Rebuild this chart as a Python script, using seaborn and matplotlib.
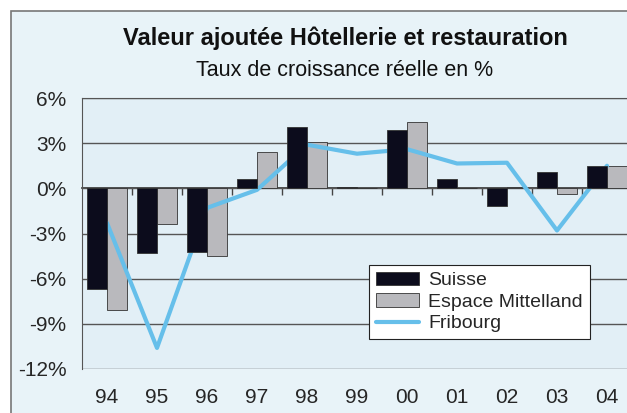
import pandas as pd
import numpy as np
import matplotlib.pyplot as plt
import seaborn as sns
from matplotlib.patches import Rectangle

years = ["94", "95", "96", "97", "98", "99", "00", "01", "02", "03", "04"]
suisse = [-6.7, -4.3, -4.2, 0.65, 4.05, 0.1, 3.9, 0.6, -1.2, 1.1, 1.5]
mittelland = [-8.1, -2.4, -4.5, 2.4, 3.05, 0.0, 4.4, 0.0, 0.1, -0.4, 1.5]
fribourg = [-2.3, -10.6, -1.3, -0.1, 2.9, 2.3, 2.6, 1.65, 1.7, -2.8, 1.5]
y_ticks = [-12, -9, -6, -3, 0, 3, 6]

df = pd.DataFrame({"annee": years * 2,
                   "serie": ["Suisse"] * len(years) + ["Espace Mittelland"] * len(years),
                   "taux": suisse + mittelland})

sns.set_style("white")
plt.rcParams["font.family"] = ["Liberation Sans", "DejaVu Sans"]

fig = plt.figure(figsize=(6.27, 4.13), dpi=100, facecolor="white")
# cadre du graphique (scan)
cadre = Rectangle((11 / 627, -0.1), 1.2, 1 - 11 / 413 + 0.1, transform=fig.transFigure,
                  facecolor="#e8f3f8", edgecolor="#777777", lw=1.2, zorder=-1)
fig.patches.append(cadre)

ax = fig.add_axes([82 / 627, 44 / 413, 550 / 627, 271 / 413])
ax.set_facecolor("#e2eff6")

sns.barplot(data=df, x="annee", y="taux", hue="serie", order=years,
            hue_order=["Suisse", "Espace Mittelland"],
            palette=["#0c0c1c", "#b9b9bd"], width=0.8, saturation=1,
            edgecolor="#333333", linewidth=0.6, legend=False, ax=ax)
for b in ax.containers[0]:
    b.set_zorder(3)
for b in ax.containers[1]:
    b.set_zorder(1.5)

sns.lineplot(x=np.arange(len(years)), y=fribourg, color="#66bfea", lw=3, ax=ax,
             zorder=2.5, label="Fribourg", legend=False)
ligne = [l for l in ax.get_lines() if l.get_label() == "Fribourg"][0]

ax.set_xlim(-0.5, len(years) - 0.5)
ax.set_ylim(-12, 6)
ax.set_yticks(y_ticks)
ax.set_yticklabels([f"{v}%" for v in y_ticks], fontsize=15)
ax.set_xticks(range(len(years)))
ax.set_xticklabels(years, fontsize=15)
ax.tick_params(axis="x", length=0, pad=14)
ax.tick_params(axis="y", length=5, width=1, color="#444444", direction="out", pad=6)
ax.set_xlabel("")
ax.set_ylabel("")
ax.grid(axis="y", color="#555555", lw=1)
ax.set_axisbelow(True)
for s in ["right", "bottom"]:
    ax.spines[s].set_visible(False)
ax.spines["left"].set_color("#555555")
ax.spines["top"].set_color("#555555")

# axe des abscisses a 0 % avec graduations
sec = ax.secondary_xaxis(0, transform=ax.transData)
sec.set_xticks(np.arange(len(years) - 1) + 0.5)
sec.set_xticklabels([])
sec.tick_params(length=5, width=1, color="#444444", direction="out")
sec.spines["bottom"].set_color("#333333")
sec.spines["bottom"].set_linewidth(1.2)

fig.text(345 / 627, 1 - 38 / 413, "Valeur ajoutée Hôtellerie et restauration",
         ha="center", va="center", fontsize=17, fontweight="bold", color="#111111")
fig.text(345 / 627, 1 - 70 / 413, "Taux de croissance réelle en %",
         ha="center", va="center", fontsize=15.5, color="#111111")

handles = [ax.containers[0][0], ax.containers[1][0], ligne]
leg = ax.legend(handles, ["Suisse", "Espace Mittelland", "Fribourg"],
                loc="upper left", bbox_to_anchor=(369 / 627, 1 - 265 / 413),
                bbox_transform=fig.transFigure, borderaxespad=0, fontsize=14,
                fancybox=False, framealpha=1, edgecolor="#222222",
                handlelength=2.2, handletextpad=0.5, labelspacing=0.2,
                borderpad=0.35)
leg.get_frame().set_linewidth(0.8)
leg.set_zorder(5)

plt.savefig("out.png", dpi=100)
